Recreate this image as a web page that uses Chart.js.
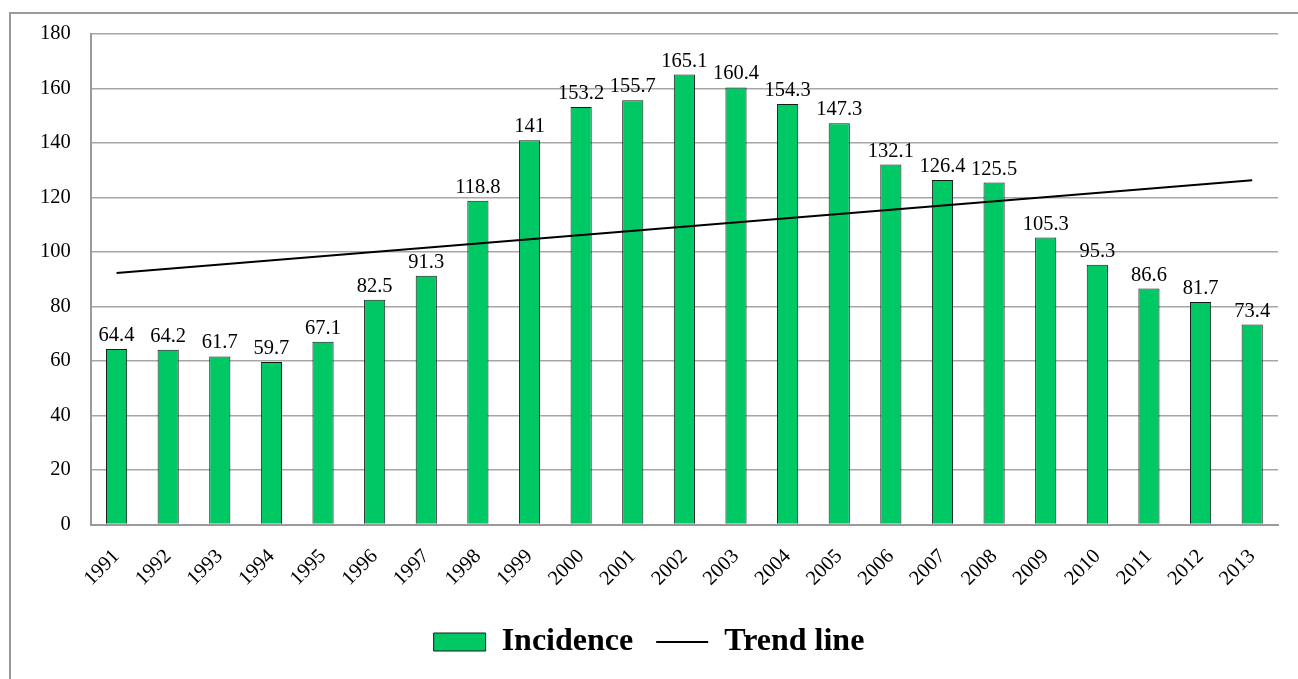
<!DOCTYPE html>
<html>
<head>
<meta charset="utf-8">
<script src="https://cdn.jsdelivr.net/npm/chart.js@4"></script>
<style>
  html, body { margin: 0; padding: 0; background: #fff; }
  #wrap { position: absolute; left: 0; top: 0; width: 1298px; height: 679px; }
</style>
</head>
<body>
<div id="wrap"><canvas id="chart"></canvas></div>
<script>
// data
const years = ['1991','1992','1993','1994','1995','1996','1997','1998','1999','2000','2001','2002',
  '2003','2004','2005','2006','2007','2008','2009','2010','2011','2012','2013'];
const incidence = [64.4, 64.2, 61.7, 59.7, 67.1, 82.5, 91.3, 118.8, 141, 153.2, 155.7, 165.1,
  160.4, 154.3, 147.3, 132.1, 126.4, 125.5, 105.3, 95.3, 86.6, 81.7, 73.4];
// trend line end points
const trendPoints = [{ x: '1991', y: 92.3 }, { x: '2013', y: 126.3 }];
const yTicks = [0, 20, 40, 60, 80, 100, 120, 140, 160, 180];

const serif = "'Liberation Serif', 'Times New Roman', serif";

// values above the bars
const barLabels = {
  id: 'barLabels',
  afterDatasetsDraw(chart) {
    const ctx = chart.ctx;
    const meta = chart.getDatasetMeta(0);
    ctx.save();
    ctx.font = `20.5px ${serif}`;
    ctx.fillStyle = '#000';
    ctx.textAlign = 'center';
    ctx.textBaseline = 'alphabetic';
    meta.data.forEach((bar, i) => {
      ctx.fillText(String(incidence[i]), bar.x, bar.y - 8);
    });
    ctx.restore();
  }
};

// outer frame
const frame = {
  id: 'frame',
  beforeDraw(chart) {
    const ctx = chart.ctx;
    ctx.save();
    ctx.strokeStyle = '#9a9a9a';
    ctx.lineWidth = 2;
    ctx.beginPath();
    ctx.moveTo(10, 700);
    ctx.lineTo(10, 13);
    ctx.lineTo(1310, 13);
    ctx.stroke();
    ctx.restore();
  }
};

new Chart(document.getElementById('chart'), {
  data: {
    labels: years,
    datasets: [
      {
        type: 'bar',
        label: 'Incidence',
        data: incidence,
        backgroundColor: '#00c864',
        borderColor: '#1a1a1a',
        borderWidth: 1,
        barPercentage: 0.41,
        categoryPercentage: 1,
        pointStyle: 'rect',
        order: 2
      },
      {
        type: 'line',
        label: 'Trend line',
        data: trendPoints,
        borderColor: '#000',
        backgroundColor: '#000',
        borderWidth: 2,
        pointRadius: 0,
        pointStyle: 'line',
        fill: false,
        order: 1
      }
    ]
  },
  options: {
    responsive: true,
    maintainAspectRatio: false,
    animation: false,
    layout: { padding: { left: 20, right: 20, top: 34, bottom: 11 } },
    plugins: {
      tooltip: { enabled: false },
      legend: {
        position: 'bottom',
        labels: {
          usePointStyle: true,
          pointStyleWidth: 52,
          boxHeight: 18,
          padding: 23,
          color: '#000',
          font: { family: serif, size: 32, weight: 'bold' },
          sort: (a, b) => a.datasetIndex - b.datasetIndex
        }
      }
    },
    scales: {
      x: {
        offset: true,
        grid: { display: false },
        border: { color: '#9a9a9a', width: 2 },
        ticks: {
          color: '#000',
          font: { family: serif, size: 20.5 },
          minRotation: 45,
          maxRotation: 45,
          autoSkip: false,
          padding: 12
        }
      },
      y: {
        min: 0,
        max: 180,
        afterBuildTicks(axis) { axis.ticks = yTicks.map(v => ({ value: v })); },
        grid: { color: '#a6a6a6', lineWidth: 1.5, drawTicks: false },
        border: { color: '#9a9a9a', width: 2 },
        ticks: {
          color: '#000',
          font: { family: serif, size: 20.5 },
          padding: 20
        }
      }
    }
  },
  plugins: [barLabels, frame]
});
</script>
</body>
</html>
